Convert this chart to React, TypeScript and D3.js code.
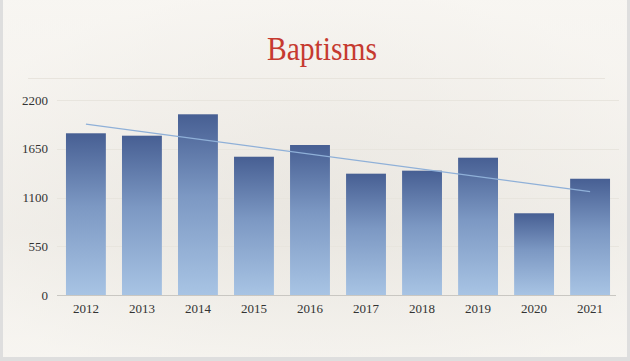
import React from "react";
import * as d3 from "d3";

const years = ["2012", "2013", "2014", "2015", "2016", "2017", "2018", "2019", "2020", "2021"];
const baptisms = [1825, 1798, 2039, 1561, 1693, 1370, 1404, 1550, 924, 1313];
const yTicks = [0, 550, 1100, 1650, 2200];
const title = "Baptisms";

const W = 630;
const H = 361;

export default function App() {
  const x = d3.scaleBand<string>().domain(years).range([57, 619]).paddingInner(0.288).paddingOuter(0.16);
  const y = d3.scaleLinear().domain([0, 2200]).range([295.3, 100]);

  // linear regression trendline
  const n = baptisms.length;
  const xs = baptisms.map((_, i) => i);
  const mx = d3.mean(xs) as number;
  const my = d3.mean(baptisms) as number;
  const sxy = d3.sum(xs.map((xi, i) => (xi - mx) * (baptisms[i] - my)));
  const sxx = d3.sum(xs.map((xi) => (xi - mx) ** 2));
  const slope = sxy / sxx;
  const intercept = my - slope * mx;
  const trendPts: [number, number][] = [0, n - 1].map((i) => [
    (x(years[i]) as number) + x.bandwidth() / 2,
    y(intercept + slope * i),
  ]);
  const trendLine = d3.line()(trendPts) as string;

  const serif = "'Liberation Serif', 'DejaVu Serif', serif";

  return (
    <div style={{ position: "fixed", left: 0, top: 0 }}>
      <svg width={W} height={H} xmlns="http://www.w3.org/2000/svg">
        <defs>
          <linearGradient id="bg" x1="0" y1="0" x2="0" y2="1">
            <stop offset="0" stopColor="#f7f5f1" />
            <stop offset="0.35" stopColor="#f1eee9" />
            <stop offset="0.65" stopColor="#e9e6e0" />
            <stop offset="1" stopColor="#f5f3ee" />
          </linearGradient>
          <radialGradient id="vig" cx="0.5" cy="0.55" r="0.6">
            <stop offset="0" stopColor="#e8e5df" stopOpacity="0.5" />
            <stop offset="1" stopColor="#f8f6f2" stopOpacity="0.6" />
          </radialGradient>
          <linearGradient id="bar" x1="0" y1="0" x2="0" y2="1">
            <stop offset="0" stopColor="#475f93" />
            <stop offset="0.45" stopColor="#7c98c3" />
            <stop offset="1" stopColor="#a8c4e4" />
          </linearGradient>
        </defs>
        <rect x={0} y={0} width={W} height={H} fill="#dedede" />
        <rect x={3} y={0} width={W - 6} height={H - 4} fill="url(#bg)" />
        <rect x={3} y={0} width={W - 6} height={H - 4} fill="url(#vig)" />

        <text
          x={322}
          y={60}
          textAnchor="middle"
          fontFamily={serif}
          fontSize={33}
          fill="#c63a30"
          textLength={110}
          lengthAdjust="spacingAndGlyphs"
        >
          {title}
        </text>
        <line x1={28} x2={605} y1={78.5} y2={78.5} stroke="#e8e4dd" strokeWidth={1} />

        {yTicks.map((t) => (
          <g key={t}>
            {t > 0 && (
              <line x1={57} x2={619} y1={Math.round(y(t)) + 0.5} y2={Math.round(y(t)) + 0.5} stroke="#e8e5de" strokeWidth={1} />
            )}
            <text
              x={48}
              y={y(t) + 4.5}
              textAnchor="end"
              fontFamily={serif}
              fontSize={13}
              fill="#333"
            >
              {t}
            </text>
          </g>
        ))}

        {years.map((yr, i) => (
          <rect
            key={yr}
            x={x(yr)}
            y={y(baptisms[i])}
            width={x.bandwidth()}
            height={y(0) - y(baptisms[i])}
            fill="url(#bar)"
          />
        ))}

        <line x1={57} x2={616} y1={295.5} y2={295.5} stroke="#c9c7c2" strokeWidth={1} />

        {years.map((yr) => (
          <text
            key={yr}
            x={(x(yr) as number) + x.bandwidth() / 2}
            y={313}
            textAnchor="middle"
            fontFamily={serif}
            fontSize={13}
            fill="#333"
          >
            {yr}
          </text>
        ))}

        <path d={trendLine} stroke="#8fb0d8" strokeWidth={1.2} fill="none" />
      </svg>
    </div>
  );
}
